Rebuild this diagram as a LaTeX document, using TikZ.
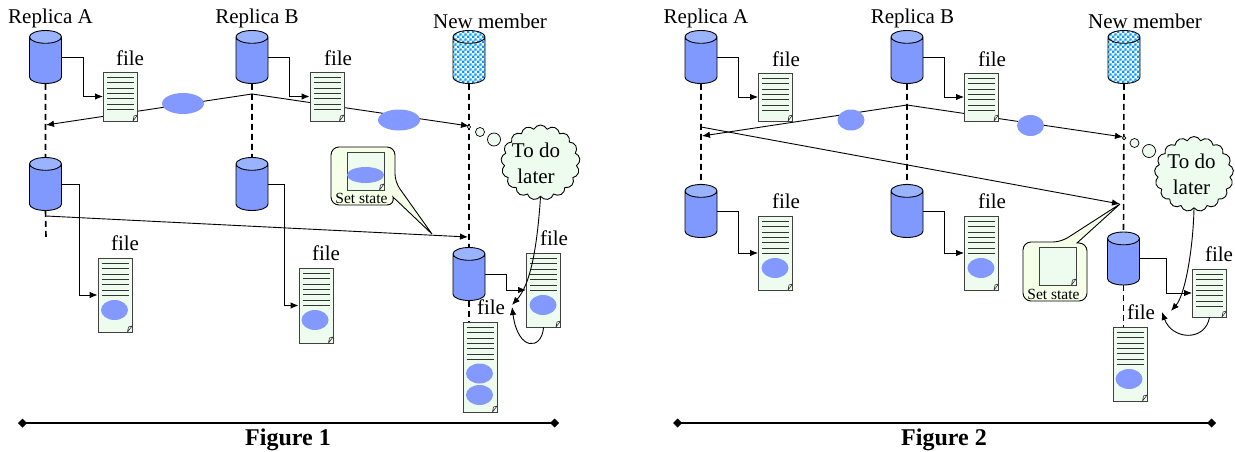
\documentclass[tikz,border=0pt]{standalone}
\usepackage{fontspec}
\setmainfont{Liberation Serif}
\usetikzlibrary{arrows.meta,patterns,shapes.geometric,shapes.symbols,shapes.misc}
\definecolor{diskblue}{HTML}{8099FF}
\definecolor{disktop}{HTML}{99B3FF}
\definecolor{checkblue}{HTML}{0099FF}
\definecolor{docgreen}{HTML}{EEFCF0}
\definecolor{boxgreen}{HTML}{F6FFE8}
\definecolor{stateblue}{HTML}{8499FF}
\pgfdeclarepatternformonly{diskchecks}{\pgfpointorigin}{\pgfqpoint{5.2pt}{5.2pt}}{\pgfqpoint{5.2pt}{5.2pt}}{
  \pgfpathrectangle{\pgfpointorigin}{\pgfqpoint{2.6pt}{2.6pt}}
  \pgfpathrectangle{\pgfqpoint{2.6pt}{2.6pt}}{\pgfqpoint{2.6pt}{2.6pt}}
  \pgfusepath{fill}
}
\begin{document}
\begin{tikzpicture}[x=1pt,y=-1pt,line width=.9pt]
  \tikzstyle{every node}=[inner sep=0pt,font=\fontsize{21}{26}\selectfont]
  \tikzstyle{disk}=[cylinder,shape border rotate=90,draw,anchor=shape center,inner sep=8pt,aspect=.8,minimum width=32,minimum height=53,cylinder uses custom fill,cylinder body fill=diskblue,cylinder end fill=disktop]
  \tikzstyle{newdisk}=[cylinder,shape border rotate=90,draw,anchor=shape center,inner sep=8pt,aspect=.8,minimum width=32,minimum height=53,preaction={fill=white},pattern=diskchecks,pattern color=checkblue]
  \tikzstyle{plaindoc}=[chamfered rectangle,chamfered rectangle corners=south east,chamfered rectangle xsep=4.5pt,chamfered rectangle ysep=6pt,draw=black!75,fill=docgreen,minimum width=34,
    path picture={\draw[black!80,line width=.6pt,fill=white] (path picture bounding box.south east) ++(-4.5,0) -- ++(1,-5) -- ++(3.5,-1) -- cycle;}]
  \tikzstyle{filedoc}=[plaindoc,
    postaction={path picture={\draw[black!80,line width=.9pt] (path picture bounding box.north west) ++(3.5,5.3) -- ++(27,0) ++(-27,5.4) -- ++(27,0) ++(-27,5.4) -- ++(27,0) ++(-27,5.4) -- ++(27,0) ++(-27,5.4) -- ++(27,0) ++(-27,5.4) -- ++(27,0) ++(-27,5.4) -- ++(27,0);}}]
  \tikzstyle{state}=[ellipse,fill=stateblue,minimum width=27,minimum height=20]
  \tikzstyle{message}=[ellipse,fill=stateblue,minimum width=42,minimum height=21]
  \tikzstyle{smallmessage}=[ellipse,fill=stateblue,minimum width=27,minimum height=21]
  \tikzstyle{todo}=[cloud,cloud puffs=17,cloud puff arc=130,aspect=1,draw,fill=docgreen,minimum width=79,minimum height=75]
  \tikzstyle{bubble}=[ellipse,draw,line width=.7pt,fill=docgreen]
  \tikzstyle{arrow}=[-{Latex[length=8pt,width=6.5pt]}]
  \tikzstyle{life}=[line width=1.6pt,dash pattern=on 6pt off 4pt]
  \tikzstyle{axis}=[line width=1.8pt,{Diamond[length=9pt,width=9pt]}-{Diamond[length=9pt,width=9pt]}]
  \tikzstyle{callbox}=[draw,fill=boxgreen,rounded corners=8pt]

  \useasboundingbox (0,0) rectangle (1235,452);

  \coordinate (sendB) at (252,94);
  \coordinate (recvA) at (46,125);
  \coordinate (recvN) at (469,126);
  \coordinate (pushA) at (46,216);
  \coordinate (pushN) at (468,237);
  \coordinate (endA) at (46,237);
  \coordinate (tipTodo) at (512,305);
  \coordinate (tipFile) at (512,307);
  \draw[arrow] (sendB) -- (recvA);
  \draw[arrow] (sendB) -- (recvN);
  \draw[arrow] (pushA) -- (pushN);

  \node[disk] (diskA) at (45.5,57) {};
  \node[disk] (diskB) at (252,57) {};
  \node[newdisk] (diskN) at (469,57) {};
  \node[disk] (diskAlow) at (45.5,184) {};
  \node[disk] (diskBlow) at (252,184) {};
  \node[disk] (diskNlow) at (469,274) {};
  \node (nameA) at (50.5,18) {Replica A};
  \node (nameB) at (257,18) {Replica B};
  \node (nameN) at (490,21) {New member};
  \node[filedoc,minimum height=49] (fileA) at (120.5,96.5) {};
  \node[filedoc,minimum height=49] (fileB) at (327,96.5) {};
  \node[filedoc,minimum height=74] (fileAlow) at (115,295) {};
  \node[filedoc,minimum height=75] (fileBlow) at (316,305.5) {};
  \node[filedoc,minimum height=74] (fileN) at (543.5,290) {};
  \node[filedoc,minimum height=90] (fileNlow) at (480,367) {};
  \node (labelA) at (130,58) {file};
  \node (labelB) at (338,58) {file};
  \node (labelAlow) at (125,243) {file};
  \node (labelBlow) at (326,253) {file};
  \node (labelN) at (554,238) {file};
  \node (labelNlow) at (491,307) {file};
  \node[state] (stateA) at (114.5,310) {};
  \node[state] (stateB) at (315,320) {};
  \node[state] (stateN) at (543,305) {};
  \node[state] (stateNa) at (479.5,373.5) {};
  \node[state] (stateNb) at (479.5,395) {};
  \node[message] (msgA) at (183,103.5) {};
  \node[message] (msgN) at (399,120) {};
  \draw[life] (diskA.south) -- (diskAlow.north);
  \draw[life] (diskAlow.south) -- (endA);
  \draw[life] (diskB.south) -- (diskBlow.north);
  \draw[life] (diskN.south) -- (diskNlow.north);
  \draw[life] (diskNlow.south) -- (fileNlow.north -| diskNlow.south);
  \draw[arrow] (diskA.shape center -| diskA.east) -- ++(21,0) |- (fileA.west);
  \draw[arrow] (diskB.shape center -| diskB.east) -- ++(21,0) |- (fileB.west);
  \draw[arrow] (diskAlow.shape center -| diskAlow.east) -- ++(17,0) |- (fileAlow.west);
  \draw[arrow] (diskBlow.shape center -| diskBlow.east) -- ++(16,0) |- (fileBlow.west);
  \draw[arrow] (diskNlow.shape center -| diskNlow.east) -- ++(21,0) |- (fileN.west);
  \draw[callbox] (331,176) -- (331,147) -- (395,147) -- (395,182) [sharp corners] -- (432,234) -- (393,197) [rounded corners=8pt] -- (395,205) -- (331,205) -- cycle;
  \node[plaindoc,minimum width=37,minimum height=38] (setdocA) at (365.5,171) {};
  \node[ellipse,fill=stateblue,minimum width=37,minimum height=16] (setstateA) at (365.5,175) {};
  \node[font=\fontsize{15.5}{18}\selectfont] (setA) at (361.5,198) {Set state};
  \node[todo] (cloudA) at (540.5,162.5) {};
  \node[align=center] (todoA) at (536,163) {To do\\later};
  \node[bubble,minimum size=3.5] (bubA) at (469,127) {};
  \node[bubble,minimum size=9] (bubB) at (480,132) {};
  \node[bubble,minimum size=13] (bubC) at (494,139.5) {};
  \draw[arrow] (cloudA.south) .. controls (537,250) and (530,285) .. (tipTodo);
  \draw[arrow] (fileN.south) .. controls (542,350) and (518,352) .. (tipFile);
  \draw[axis] (18,423) -- (559,423);
  \node[font=\fontsize{24}{28}\selectfont\bfseries] (figA) at (288,440) {Figure 1};

  \coordinate (send2B) at (907,105);
  \coordinate (recv2A) at (702,136);
  \coordinate (recv2N) at (1123,137);
  \coordinate (push2A) at (701,127);
  \coordinate (push2N) at (1120,204);
  \coordinate (tip2Todo) at (1171,311);
  \coordinate (tip2File) at (1162,312);
  \draw[arrow] (send2B) -- (recv2A);
  \draw[arrow] (send2B) -- (recv2N);
  \draw[arrow] (push2A) -- (push2N);

  \node[disk] (disk2A) at (701,57) {};
  \node[disk] (disk2B) at (907,57) {};
  \node[newdisk] (disk2N) at (1124,57) {};
  \node[disk] (disk2Alow) at (701,211) {};
  \node[disk] (disk2Blow) at (907,211) {};
  \node[disk] (disk2Nlow) at (1123.5,258.5) {};
  \node (name2A) at (706,18) {Replica A};
  \node (name2B) at (912.5,18) {Replica B};
  \node (name2N) at (1145,21) {New member};
  \node[filedoc,minimum height=48] (file2A) at (775.5,97) {};
  \node[filedoc,minimum height=48] (file2B) at (981.5,97) {};
  \node[filedoc,minimum height=74] (file2Alow) at (775.5,253) {};
  \node[filedoc,minimum height=74] (file2Blow) at (981.5,253) {};
  \node[filedoc,minimum height=48] (file2N) at (1209.5,293) {};
  \node[filedoc,minimum height=74] (file2Nlow) at (1130,364) {};
  \node (label2A) at (786,59) {file};
  \node (label2B) at (992,59) {file};
  \node (label2Alow) at (786,201) {file};
  \node (label2Blow) at (992,201) {file};
  \node (label2N) at (1219,254) {file};
  \node (label2Nlow) at (1141,312) {file};
  \node[state] (state2A) at (775,268) {};
  \node[state] (state2B) at (981,268) {};
  \node[state] (state2N) at (1129,379) {};
  \node[smallmessage] (msg2A) at (851,120) {};
  \node[smallmessage] (msg2N) at (1030.5,125.5) {};
  \draw[life] (disk2A.south) -- (disk2Alow.north);
  \draw[life] (disk2B.south) -- (disk2Blow.north);
  \draw[life] (disk2N.south) -- (disk2Nlow.north);
  \draw[life] (disk2Nlow.south) -- (file2Nlow.north -| disk2Nlow.south);
  \draw[arrow] (disk2A.shape center -| disk2A.east) -- ++(21,0) |- (file2A.west);
  \draw[arrow] (disk2B.shape center -| disk2B.east) -- ++(21,0) |- (file2B.west);
  \draw[arrow] (disk2Alow.shape center -| disk2Alow.east) -- ++(21,0) |- (file2Alow.west);
  \draw[arrow] (disk2Blow.shape center -| disk2Blow.east) -- ++(21,0) |- (file2Blow.west);
  \draw[arrow] (disk2Nlow.shape center -| disk2Nlow.east) -- ++(26,0) |- (file2N.west);
  \draw[callbox] (1023,270) -- (1023,242) -- (1061,242) [sharp corners] -- (1120,204) -- (1077,243) [rounded corners=8pt] -- (1087,243) -- (1087,301) -- (1023,301) -- cycle;
  \node[plaindoc,minimum width=37,minimum height=38] (setdoc2) at (1057.5,266) {};
  \node[font=\fontsize{15.5}{18}\selectfont] (set2) at (1053.5,294) {Set state};
  \node[todo] (cloud2) at (1194,174) {};
  \node[align=center] (todo2) at (1191.5,174) {To do\\later};
  \node[bubble,minimum size=3.5] (bub2A) at (1124,138) {};
  \node[bubble,minimum size=9] (bub2B) at (1134.5,143) {};
  \node[bubble,minimum size=13] (bub2C) at (1149,151) {};
  \draw[arrow] (cloud2.south) .. controls (1193,250) and (1185,295) .. (tip2Todo);
  \draw[arrow] (file2N.south) .. controls (1205,342) and (1172,340) .. (tip2File);
  \draw[axis] (673,423) -- (1216,423);
  \node[font=\fontsize{24}{28}\selectfont\bfseries] (fig2) at (944,440) {Figure 2};
\end{tikzpicture}
\end{document}
